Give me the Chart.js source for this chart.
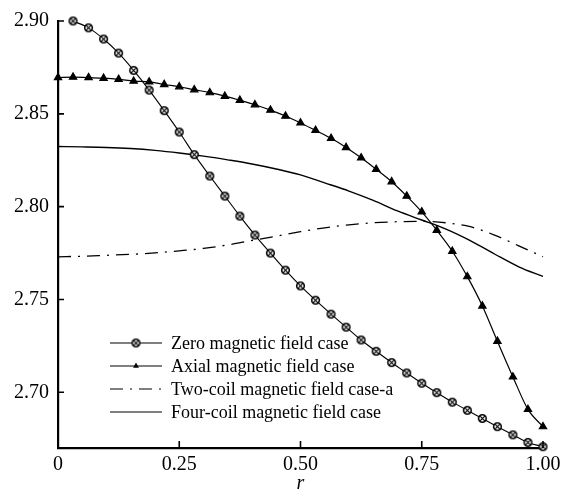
<!DOCTYPE html>
<html>
<head>
<meta charset="utf-8">
<script src="https://cdn.jsdelivr.net/npm/chart.js@4/dist/chart.umd.min.js"></script>
<style>
  html, body { margin: 0; padding: 0; background: #fff; }
  #wrap { width: 570px; height: 494px; }
</style>
</head>
<body>
<div id="wrap"><canvas id="js--chart" width="570" height="494"></canvas></div>
<script>
// r positions of the marked curves (every 1/32)
const rMarked = [0, 0.031, 0.063, 0.094, 0.125, 0.156, 0.188, 0.219, 0.25, 0.281, 0.313, 0.344,
  0.375, 0.406, 0.438, 0.469, 0.5, 0.531, 0.563, 0.594, 0.625, 0.656, 0.688, 0.719, 0.75,
  0.781, 0.813, 0.844, 0.875, 0.906, 0.938, 0.969, 1.0];
// r positions of the plain curves
const rPlain = [0, 0.05, 0.1, 0.15, 0.2, 0.25, 0.3, 0.35, 0.4, 0.45, 0.5, 0.55, 0.6, 0.65,
  0.7, 0.75, 0.8, 0.85, 0.9, 0.95, 1.0];

// zero field starts at the second r position
const zeroField = [null, 2.900, 2.8963, 2.8903, 2.8827, 2.8734, 2.8628, 2.8517, 2.8402, 2.8280,
  2.8165, 2.8057, 2.7949, 2.7847, 2.7750, 2.7658, 2.7573, 2.7496, 2.7421, 2.7351, 2.7282,
  2.7221, 2.7160, 2.7104, 2.7049, 2.6998, 2.6947, 2.6903, 2.6859, 2.6815, 2.6771, 2.6730, 2.6707];
const axialField = [2.8695, 2.8698, 2.8695, 2.8692, 2.8686, 2.8676, 2.8672, 2.8658, 2.8646,
  2.8630, 2.8614, 2.8595, 2.8573, 2.8549, 2.8520, 2.8488, 2.8451, 2.8411, 2.8368, 2.8319,
  2.8263, 2.8201, 2.8134, 2.8057, 2.7972, 2.7873, 2.7760, 2.7623, 2.7465, 2.7275, 2.7083,
  2.6908, 2.6815];
const twoCoil = [2.7730, 2.7733, 2.7738, 2.7743, 2.7751, 2.7762, 2.7775, 2.7794, 2.7818, 2.7841,
  2.7865, 2.7886, 2.7902, 2.7913, 2.7919, 2.7921, 2.7913, 2.7892, 2.7847, 2.7789, 2.7730];
const fourCoil = [2.8324, 2.8322, 2.8319, 2.8313, 2.8303, 2.8289, 2.8272, 2.8252, 2.8230, 2.8203,
  2.8171, 2.8128, 2.8084, 2.8034, 2.7977, 2.7928, 2.7879, 2.7817, 2.7745, 2.7676, 2.7624];

const seriesNames = ['Zero magnetic field case', 'Axial magnetic field case',
  'Two-coil magnetic field case-a', 'Four-coil magnetic field case'];
const xTicks = [0, 0.25, 0.5, 0.75, 1.0];
const yTicks = [2.70, 2.75, 2.80, 2.85, 2.90];

function pairs(xs, ys) {
  const out = [];
  for (let i = 0; i < ys.length; i++) {
    if (ys[i] !== null) out.push({ x: xs[i], y: ys[i] });
  }
  return out;
}

// circle with a cross in it, for the zero field curve
const ringMark = document.createElement('canvas');
ringMark.width = 11; ringMark.height = 11;
(function () {
  const c = ringMark.getContext('2d');
  c.fillStyle = '#fff';
  c.strokeStyle = '#000';
  c.lineWidth = 1.6;
  c.beginPath(); c.arc(5.5, 5.5, 3.8, 0, Math.PI * 2); c.fill(); c.stroke();
  c.lineWidth = 1.2;
  c.beginPath();
  c.moveTo(3.2, 7.8); c.lineTo(7.8, 3.2);
  c.moveTo(3.2, 3.2); c.lineTo(7.8, 7.8);
  c.stroke();
})();

const serif = '"Liberation Serif", "Times New Roman", serif';

// ticks pointing into the plot, like the original
const innerTicks = {
  id: 'innerTicks',
  afterDraw(chart) {
    const c = chart.ctx, a = chart.chartArea;
    const sx = chart.scales.x, sy = chart.scales.y;
    c.save();
    c.strokeStyle = '#000';
    c.lineWidth = 1.6;
    c.beginPath();
    xTicks.forEach(v => {
      const px = sx.getPixelForValue(v);
      c.moveTo(px, a.bottom); c.lineTo(px, a.bottom - 7);
    });
    yTicks.forEach(v => {
      const py = sy.getPixelForValue(v);
      c.moveTo(a.left - 1, py); c.lineTo(a.left + 6, py);
    });
    c.stroke();
    c.restore();
  }
};

// legend drawn inside the plot, bottom left
const boxLegend = {
  id: 'boxLegend',
  afterDraw(chart) {
    const c = chart.ctx, a = chart.chartArea;
    const x0 = a.left + 52, x1 = a.left + 104, tx = a.left + 113;
    let y = 343;
    c.save();
    c.font = '18px ' + serif;
    c.textBaseline = 'middle';
    chart.data.datasets.forEach(ds => {
      c.strokeStyle = ds.borderColor;
      c.lineWidth = 1.2;
      c.setLineDash(ds.borderDash || []);
      c.beginPath(); c.moveTo(x0, y); c.lineTo(x1, y); c.stroke();
      c.setLineDash([]);
      if (ds.pointRadius > 0) {
        c.fillStyle = '#000';
        Chart.helpers.drawPoint(c, { pointStyle: ds.pointStyle, radius: 3.4, rotation: 0 },
          (x0 + x1) / 2, y);
      }
      c.fillStyle = '#000';
      c.fillText(ds.label, tx, y + 1);
      y += 23;
    });
    c.restore();
  }
};

new Chart(document.getElementById('js--chart'), {
  type: 'line',
  data: {
    datasets: [
      {
        label: seriesNames[0],
        data: pairs(rMarked, zeroField),
        borderColor: '#000', borderWidth: 1.1,
        pointStyle: ringMark, pointRadius: 4, pointBackgroundColor: '#fff', pointBorderColor: '#000',
        cubicInterpolationMode: 'monotone', clip: false
      },
      {
        label: seriesNames[1],
        data: pairs(rMarked, axialField),
        borderColor: '#000', borderWidth: 1.2,
        pointStyle: 'triangle', pointRadius: 4.2, pointBackgroundColor: '#000', pointBorderColor: '#000',
        cubicInterpolationMode: 'monotone', clip: false
      },
      {
        label: seriesNames[2],
        data: pairs(rPlain, twoCoil),
        borderColor: '#000', borderWidth: 1.3, borderDash: [13, 7, 2, 7],
        pointRadius: 0, cubicInterpolationMode: 'monotone', clip: false
      },
      {
        label: seriesNames[3],
        data: pairs(rPlain, fourCoil),
        borderColor: '#000', borderWidth: 1.4,
        pointRadius: 0, cubicInterpolationMode: 'monotone', clip: false
      }
    ]
  },
  options: {
    responsive: false,
    animation: false,
    maintainAspectRatio: false,
    layout: { padding: { left: 0, right: 27, top: 14, bottom: 0 } },
    plugins: { legend: { display: false }, tooltip: { enabled: false } },
    scales: {
      x: {
        type: 'linear', min: 0, max: 1,
        afterFit(s) { s.height = 46; },
        afterBuildTicks(s) { s.ticks = xTicks.map(v => ({ value: v })); },
        grid: { drawOnChartArea: false, drawTicks: false },
        border: { display: true, color: '#000', width: 2.2 },
        ticks: {
          padding: 5, color: '#000', font: { family: serif, size: 20 },
          maxRotation: 0, autoSkip: false,
          callback: v => v === 0 ? '0' : v.toFixed(2)
        },
        title: {
          display: true, text: 'r', color: '#000',
          font: { family: serif, size: 20, style: 'italic', lineHeight: 1 },
          padding: { top: 0, bottom: 0 }
        }
      },
      y: {
        min: 2.67, max: 2.90,
        afterFit(s) { s.width = 58; },
        afterBuildTicks(s) { s.ticks = yTicks.map(v => ({ value: v })); },
        grid: { drawOnChartArea: false, drawTicks: false },
        border: { display: true, color: '#000', width: 2.2 },
        ticks: {
          padding: 9, color: '#000', font: { family: serif, size: 20 },
          autoSkip: false,
          callback: v => v.toFixed(2)
        }
      }
    }
  },
  plugins: [innerTicks, boxLegend]
});
</script>
</body>
</html>
